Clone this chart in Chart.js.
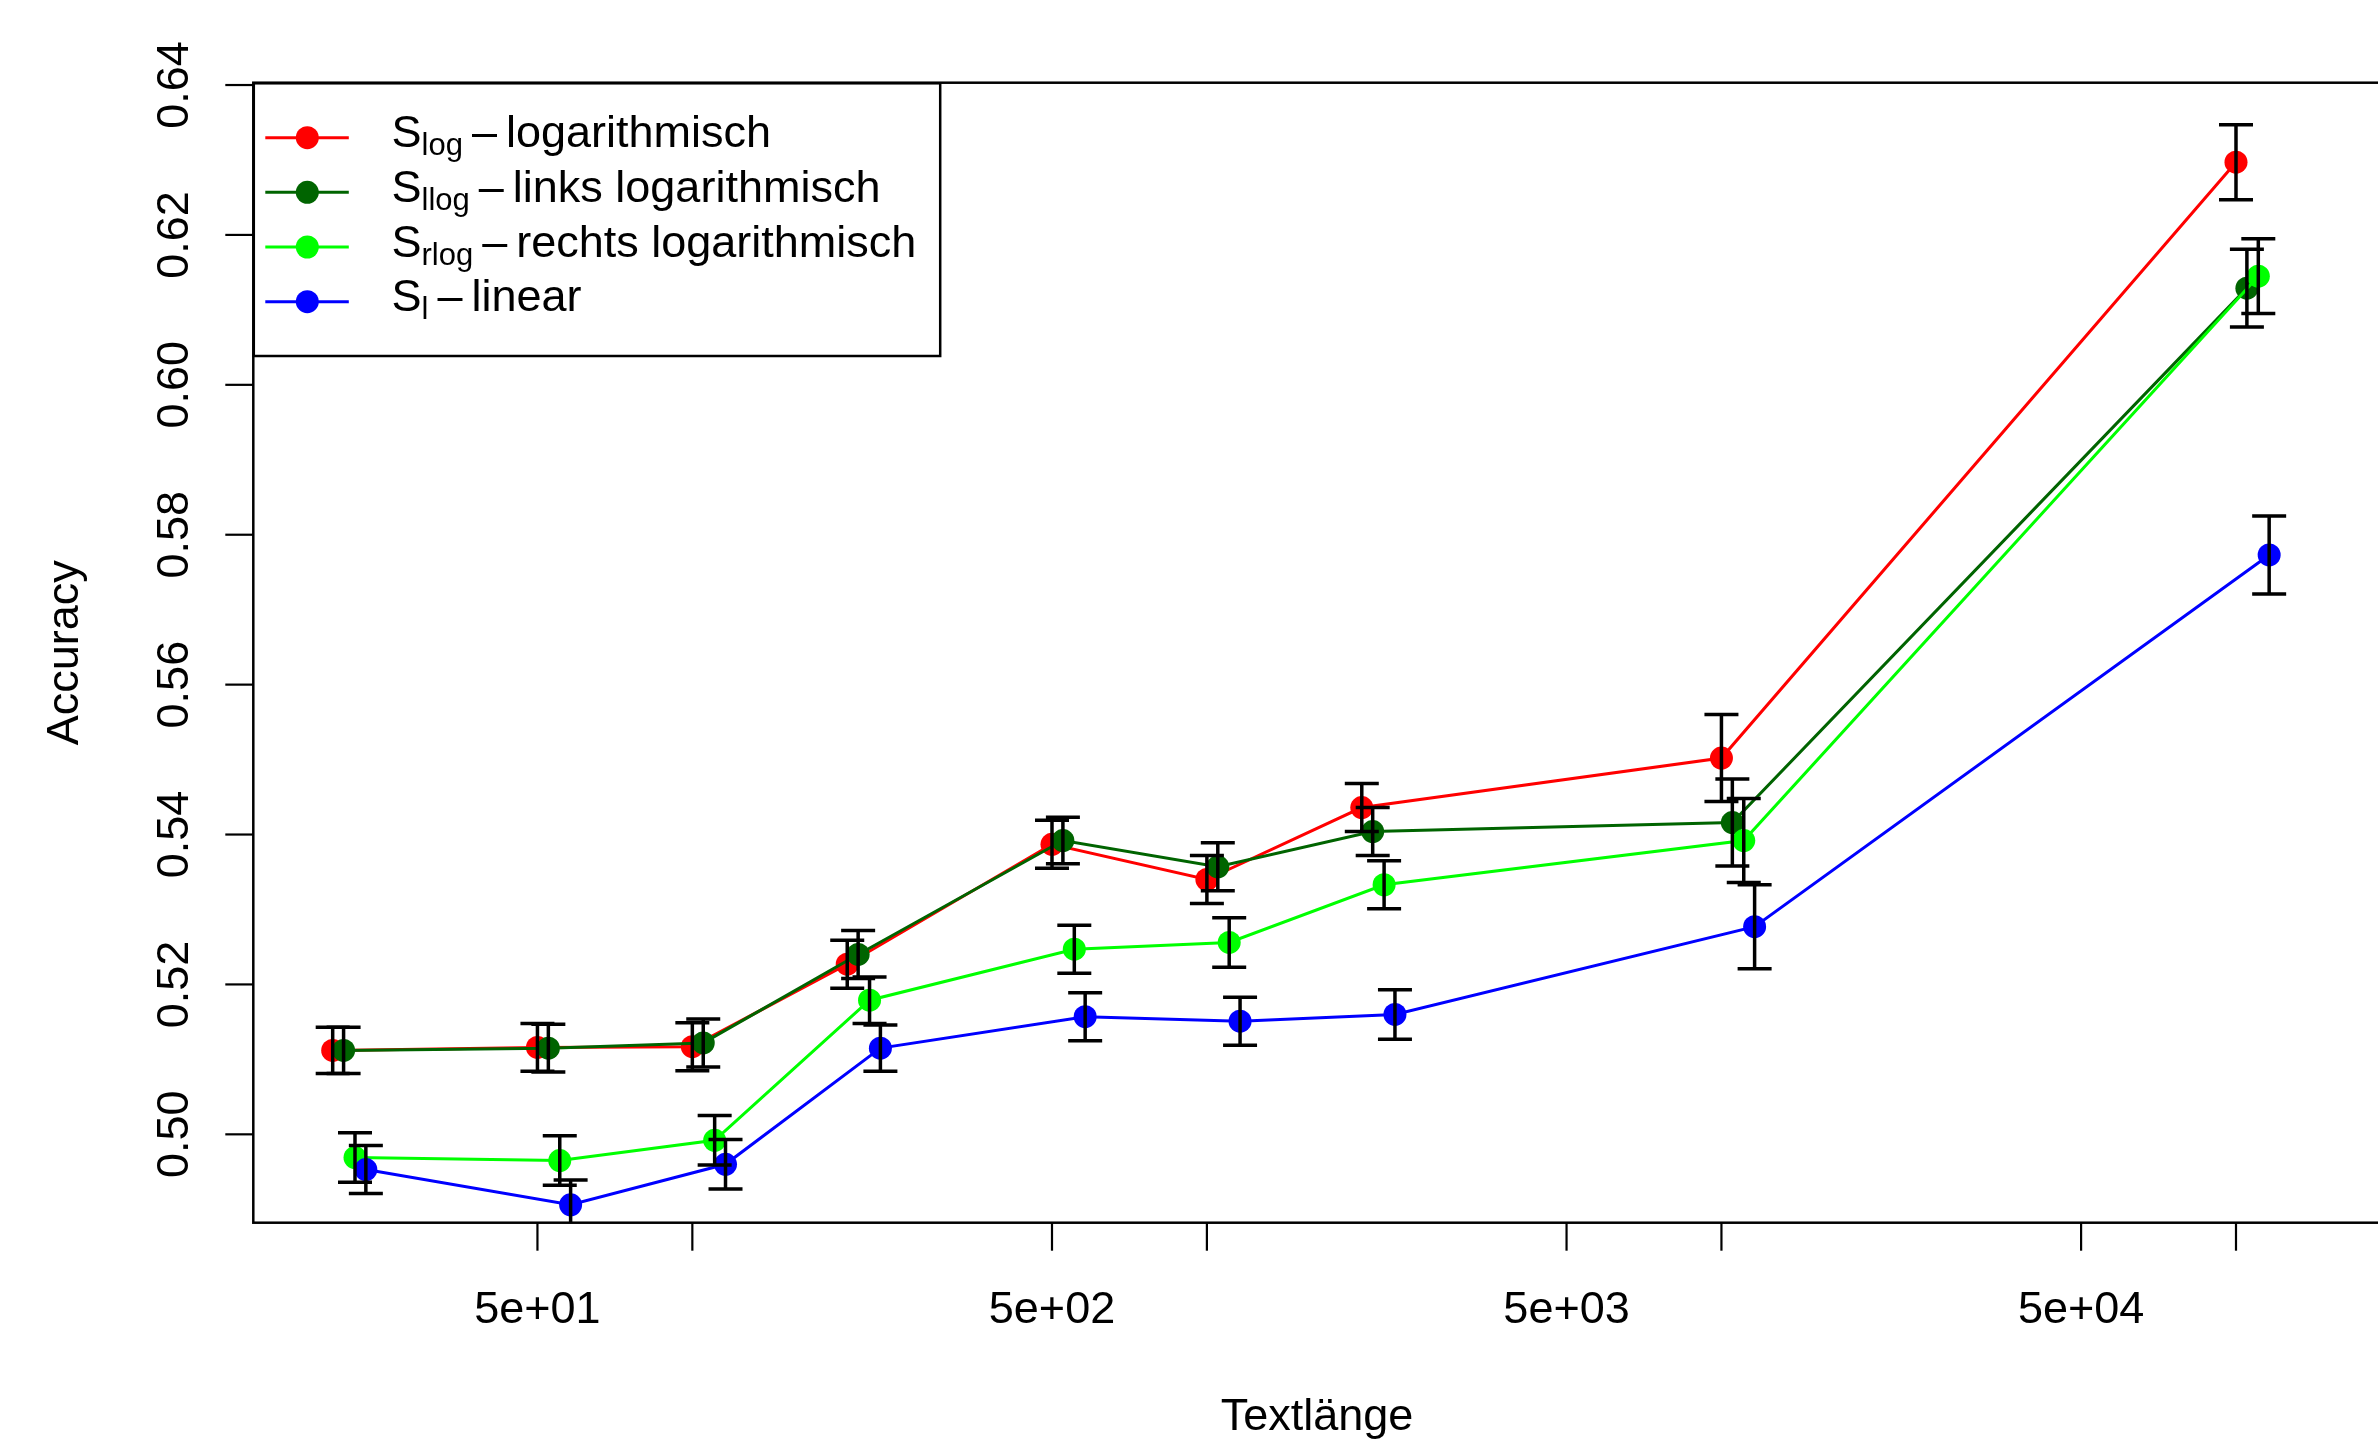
<!DOCTYPE html>
<html lang="de">
<head>
<meta charset="utf-8">
<title>Accuracy nach Textlänge</title>
<script src="https://cdn.jsdelivr.net/npm/chart.js@4/dist/chart.umd.min.js"></script>
<style>
    html, body { margin: 0; padding: 0; background: #ffffff; overflow: hidden; }
    canvas { display: block; }
</style>
</head>
<body>
<canvas id="accuracyChart" width="2400" height="1439"></canvas>
<script>

// Werte
const textLaenge = [20, 50, 100, 200, 500, 1000, 2000, 10000, 100000];

const accLog  = [0.5112, 0.5116, 0.5117, 0.5227, 0.5387, 0.5340, 0.5436, 0.5502, 0.6297];
const errLog  = [0.0031, 0.0032, 0.0032, 0.0032, 0.0032, 0.0032, 0.0032, 0.0058, 0.0050];

const accLlog = [0.5112, 0.5115, 0.5122, 0.5240, 0.5392, 0.5357, 0.5404, 0.5416, 0.6129];
const errLlog = [0.0031, 0.0032, 0.0032, 0.0032, 0.0031, 0.0032, 0.0032, 0.0058, 0.0052];

const accRlog = [0.4969, 0.4965, 0.4992, 0.5179, 0.5247, 0.5256, 0.5333, 0.5392, 0.6145];
const errRlog = [0.0033, 0.0033, 0.0033, 0.0031, 0.0032, 0.0033, 0.0032, 0.0056, 0.0050];

const accLin  = [0.4953, 0.4906, 0.4960, 0.5115, 0.5157, 0.5151, 0.5160, 0.5277, 0.5773];
const errLin  = [0.0032, 0.0033, 0.0033, 0.0031, 0.0032, 0.0032, 0.0033, 0.0056, 0.0052];

const serienIndex = ["log", "llog", "rlog", "l"];
const serienText  = ["logarithmisch", "links logarithmisch", "rechts logarithmisch", "linear"];

const xTicks      = [50, 100, 500, 1000, 5000, 10000, 50000, 100000];
const xTickLabels = ["5e+01", "", "5e+02", "", "5e+03", "", "5e+04", ""];

const yTicks      = [0.50, 0.52, 0.54, 0.56, 0.58, 0.60, 0.62, 0.64];
const yTickLabels = ["0.50", "0.52", "0.54", "0.56", "0.58", "0.60", "0.62", "0.64"];


const farben  = ["#ff0000", "#006400", "#00ff00", "#0000ff"];
const versatz = [1, 1.05, 1.105, 1.16];   // leichtes Verschieben wie im Original
const FONT    = '45px "Liberation Sans", Arial, Helvetica, sans-serif';
const SUBFONT = '31px "Liberation Sans", Arial, Helvetica, sans-serif';

const werte  = [accLog, accLlog, accRlog, accLin];
const fehler = [errLog, errLlog, errRlog, errLin];


const datasets = werte.map((serie, k) => ({

    label: "S" + serienIndex[k],
    data: serie.map((v, i) => ({ x: textLaenge[i] * versatz[k], y: v })),
    borderColor: farben[k],
    backgroundColor: farben[k],
    borderWidth: 3,
    pointRadius: 11.5,
    pointBorderWidth: 0,
    pointHoverRadius: 11.5,
    tension: 0,
    order: 4 - k

}));


const fehlerBalken = {

    id: "fehlerBalken",

    afterDatasetsDraw(chart) {

        const ctx = chart.ctx;
        const y = chart.scales.y;
        const area = chart.chartArea;

        ctx.save();
        ctx.beginPath();
        ctx.rect(area.left, area.top, area.right - area.left, area.bottom - area.top);
        ctx.clip();

        ctx.strokeStyle = "#000000";
        ctx.lineWidth = 3.5;

        werte.forEach((serie, k) => {

            const meta = chart.getDatasetMeta(k);

            serie.forEach((v, i) => {

                const px = meta.data[i].x;
                const oben = y.getPixelForValue(v + fehler[k][i]);
                const unten = y.getPixelForValue(v - fehler[k][i]);

                ctx.beginPath();
                ctx.moveTo(px, oben);
                ctx.lineTo(px, unten);
                ctx.moveTo(px - 17, oben);
                ctx.lineTo(px + 17, oben);
                ctx.moveTo(px - 17, unten);
                ctx.lineTo(px + 17, unten);
                ctx.stroke();

            });

        });

        ctx.restore();

    }

};


const achsen = {

    id: "achsen",

    afterDraw(chart) {

        const ctx = chart.ctx;
        const area = chart.chartArea;
        const x = chart.scales.x;
        const y = chart.scales.y;

        ctx.save();
        ctx.strokeStyle = "#000000";
        ctx.fillStyle = "#000000";

        // Rahmen
        ctx.lineWidth = 2.5;
        ctx.strokeRect(area.left, area.top, area.right - area.left, area.bottom - area.top);

        // x-Achse
        ctx.lineWidth = 2.2;
        ctx.font = FONT;
        ctx.textAlign = "center";
        ctx.textBaseline = "alphabetic";

        xTicks.forEach((t, i) => {

            const px = x.getPixelForValue(t);
            ctx.beginPath();
            ctx.moveTo(px, area.bottom);
            ctx.lineTo(px, area.bottom + 28);
            ctx.stroke();

            if (xTickLabels[i]) {
                ctx.fillText(xTickLabels[i], px, 1323);
            }

        });

        // y-Achse
        yTicks.forEach((t, i) => {

            const py = y.getPixelForValue(t);
            ctx.beginPath();
            ctx.moveTo(area.left, py);
            ctx.lineTo(area.left - 28, py);
            ctx.stroke();

            ctx.save();
            ctx.translate(188, py);
            ctx.rotate(-Math.PI / 2);
            ctx.fillText(yTickLabels[i], 0, 0);
            ctx.restore();

        });

        // Achsentitel
        ctx.fillText("Textlänge", 1317, 1430);

        ctx.save();
        ctx.translate(78, (area.top + area.bottom) / 2);
        ctx.rotate(-Math.PI / 2);
        ctx.fillText("Accuracy", 0, 0);
        ctx.restore();

        // Legende
        const links = area.left + 0.5;
        const oben = area.top + 0.6;

        ctx.fillStyle = "#ffffff";
        ctx.fillRect(links, oben, 686.4, 272.7);
        ctx.lineWidth = 2.5;
        ctx.strokeRect(links, oben, 686.4, 272.7);

        ctx.textAlign = "left";

        serienIndex.forEach((sub, k) => {

            const ry = oben + 54.4 + k * 54.65;

            ctx.strokeStyle = farben[k];
            ctx.fillStyle = farben[k];
            ctx.lineWidth = 3;
            ctx.beginPath();
            ctx.moveTo(265.3, ry);
            ctx.lineTo(348.8, ry);
            ctx.stroke();
            ctx.beginPath();
            ctx.arc(307.3, ry, 11.5, 0, Math.PI * 2);
            ctx.fill();

            ctx.fillStyle = "#000000";
            let tx = 391.5;
            const basis = ry + 9.7;

            ctx.font = FONT;
            ctx.fillText("S", tx, basis);
            tx += ctx.measureText("S").width;

            ctx.font = SUBFONT;
            ctx.fillText(sub, tx, basis + 8);
            tx += ctx.measureText(sub).width + 9;

            ctx.font = FONT;
            ctx.fillText("\u2013", tx, basis);
            tx += ctx.measureText("\u2013").width + 9;
            ctx.fillText(serienText[k], tx, basis);

        });

        ctx.restore();

    }

};


document.addEventListener("DOMContentLoaded", () => {

    const canvas = document.getElementById("accuracyChart");

    if (canvas) {

        new Chart(canvas, {

            type: "line",

            data: { datasets: datasets },

            options: {

                responsive: false,
                animation: false,
                devicePixelRatio: 1,

                layout: {
                    padding: { left: 253.3, top: 82.7, right: 18, bottom: 216.3 }
                },

                scales: {

                    x: {
                        type: "logarithmic",
                        min: 14.02,
                        max: 192200,
                        display: false
                    },

                    y: {
                        type: "linear",
                        min: 0.48821,
                        max: 0.64031,
                        display: false
                    }

                },

                plugins: {
                    legend: { display: false },
                    tooltip: { enabled: false }
                }

            },

            plugins: [fehlerBalken, achsen]

        });

    }

});

</script>
</body>
</html>
